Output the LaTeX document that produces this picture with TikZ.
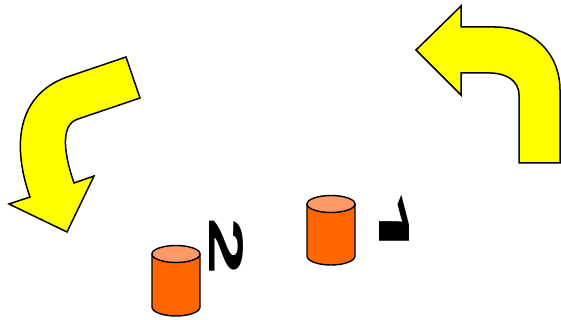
\documentclass[tikz,border=0pt]{standalone}
\usepackage{fontspec}
\setmainfont{Liberation Sans}
\newfontfamily\digitfont{Liberation Sans}[BoldFont={Liberation Sans Bold}]
\newfontfamily\onefont{Open Sans}
\definecolor{arrowyellow}{HTML}{FFFF00}
\definecolor{cylbody}{HTML}{FF6600}
\definecolor{cyltop}{HTML}{FF9966}
\tikzset{
  bentarrow/.style={fill=arrowyellow, draw=black, line width=1.5pt, line join=miter},
  cylshape/.style={draw=black, line width=1.4pt},
  digitlabel/.style={inner sep=0pt}
}
\begin{document}
\begin{tikzpicture}[x=1pt,y=1pt]
\useasboundingbox (0,0) rectangle (561,-320);
% left bent arrow
\path[bentarrow] (126,-57) -- (70,-76) .. controls (20,-92) and (10,-140) .. (30,-197)
  -- (9,-204) -- (67,-232) -- (94,-176) -- (74,-183)
  .. controls (66,-160) and (58,-125) .. (78,-119) -- (140,-98) -- cycle;
% right bent arrow
\path[bentarrow] (416,-50) -- (461,-6) -- (461,-27) -- (495,-27)
  .. controls (535,-27) and (560,-55) .. (560,-90) -- (560,-163) -- (519,-163) -- (519,-95)
  .. controls (519,-80) and (505,-73) .. (490,-73) -- (461,-73) -- (461,-95) -- cycle;
% left cylinder
\path[cylshape, fill=cylbody] (152,-254) -- (152,-307) arc[start angle=180, end angle=360, x radius=24, y radius=9] -- (200,-254) -- cycle;
\path[cylshape, fill=cyltop] (176,-254) ellipse[x radius=24, y radius=8.5];
% right cylinder
\path[cylshape, fill=cylbody] (307,-204) -- (307,-256) arc[start angle=180, end angle=360, x radius=24, y radius=9] -- (355,-204) -- cycle;
\path[cylshape, fill=cyltop] (331,-204) ellipse[x radius=24, y radius=8.5];
% labels
\node[digitlabel, rotate=-90, xscale=2.14] (two) at (226.5,-246.5) {\digitfont\bfseries\fontsize{48.6}{50}\selectfont 2};
\node[digitlabel, rotate=-90, xscale=3.1] (one) at (394,-225) {\onefont\bfseries\fontsize{42}{44}\selectfont 1};
\end{tikzpicture}
\end{document}
